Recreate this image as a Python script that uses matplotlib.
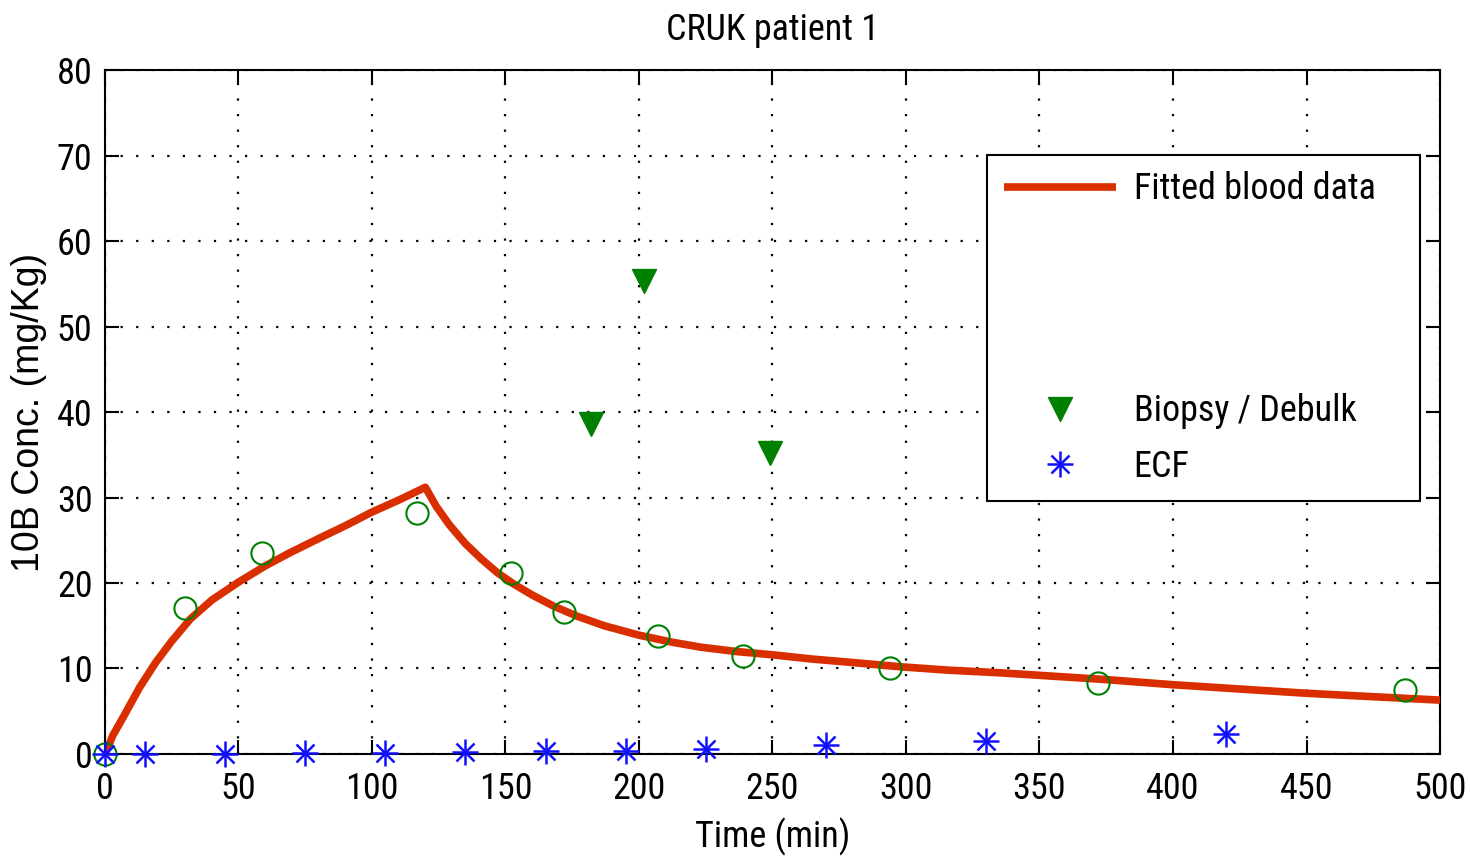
import numpy as np
import matplotlib
matplotlib.use("Agg")
import matplotlib.pyplot as plt
from matplotlib.lines import Line2D
from matplotlib.legend_handler import HandlerTuple
from matplotlib import font_manager

# look for a narrow sans font, fall back to Liberation Sans at a smaller size
fonts = font_manager.fontManager.ttflist
names = {f.name for f in fonts}
fs = 22
for cand in ['Liberation Sans Narrow', 'Arial Narrow', 'Roboto Condensed', 'Open Sans Condensed']:
    if cand in names:
        plt.rcParams['font.family'] = [cand, 'DejaVu Sans']
        fs = 26
        break
else:
    if any(f.name == 'DejaVu Sans' and f.stretch == 'condensed' for f in fonts):
        plt.rcParams['font.family'] = ['DejaVu Sans']
        plt.rcParams['font.stretch'] = 'condensed'
        fs = 24
    else:
        plt.rcParams['font.family'] = ['Liberation Sans', 'DejaVu Sans']

# fitted blood curve
fit_t = [0, 3, 7, 13, 19, 25, 32, 40, 50, 60, 69, 80, 90, 100, 110, 120,
         124, 129, 135, 141, 147, 153, 160, 168, 177, 187, 200, 212, 223, 236, 250,
         265, 280, 298, 316, 335, 350, 375, 400, 425, 450, 475, 500]
fit_c = [0, 2.2, 4.4, 7.8, 10.7, 13.2, 15.8, 18.0, 20.1, 22.0, 23.5, 25.2, 26.7, 28.3, 29.7, 31.2,
         29.0, 26.8, 24.6, 22.8, 21.2, 19.9, 18.6, 17.3, 16.1, 15.0, 13.9, 13.1, 12.5, 12.0, 11.6,
         11.1, 10.7, 10.2, 9.8, 9.5, 9.2, 8.7, 8.1, 7.6, 7.1, 6.7, 6.3]

# blood samples
blood_t = [0, 30, 59, 117, 152, 172, 207, 239, 294, 372, 487]
blood_c = [0, 17.1, 23.5, 28.2, 21.2, 16.6, 13.8, 11.5, 10.1, 8.3, 7.5]

# biopsy / debulk
bio_t = [182, 202, 249]
bio_c = [38.6, 55.3, 35.2]

# ECF
ecf_t = [0, 15, 45, 75, 105, 135, 165, 195, 225, 270, 330, 420]
ecf_c = [0, 0, 0, 0.1, 0.1, 0.2, 0.35, 0.35, 0.6, 1.05, 1.5, 2.3]

red = '#d92e00'
green = '#008000'
blue = '#1010ff'

fig = plt.figure(figsize=(14.7, 8.56), dpi=100)
ax = fig.add_axes([0.0714, 0.1192, 0.9082, 0.7988])

line, = ax.plot(fit_t, fit_c, color=red, lw=5.5, solid_capstyle='butt',
                solid_joinstyle='round', zorder=3)
ax.plot(blood_t, blood_c, 'o', mfc='none', mec=green, ms=16, mew=1.5, zorder=4, clip_on=False)
tri, = ax.plot(bio_t, bio_c, 'v', color=green, ms=17, zorder=4)
p1, = ax.plot(ecf_t, ecf_c, '+', color=blue, ms=19, mew=1.8, zorder=5, clip_on=False)
p2, = ax.plot(ecf_t, ecf_c, 'x', color=blue, ms=13, mew=1.8, zorder=5, clip_on=False)

ax.set_xlim(0, 500)
ax.set_ylim(0, 80)
ax.set_xticks(np.arange(0, 501, 50))
ax.set_yticks(np.arange(0, 81, 10))
ax.grid(True, color='black', linestyle=(0, (1, 6)), lw=1.6)
ax.tick_params(direction='in', length=10, width=1.5, top=True, right=True,
               labelsize=fs, pad=9)
ax.tick_params(axis='x', pad=12)
for s in ax.spines.values():
    s.set_linewidth(1.5)

ax.set_title('CRUK patient 1', fontsize=fs, pad=22)
ax.set_xlabel('Time (min)', fontsize=fs, labelpad=8)
ax.set_ylabel('10B Conc. (mg/Kg)', fontsize=27, family=['Liberation Sans', 'DejaVu Sans'],
              fontstretch='normal', labelpad=7)

blank = Line2D([], [], color='none')
leg = ax.legend([line, blank, blank, blank, tri, (p1, p2)],
                ['Fitted blood data', '', '', '', 'Biopsy / Debulk', 'ECF'],
                handler_map={tuple: HandlerTuple(ndivide=1, pad=0)},
                loc='upper left', bbox_to_anchor=(0.661, 0.876, 0.324, 0.0),
                mode='expand', fontsize=fs, labelspacing=0.54, handlelength=3.1 * 26 / fs,
                handletextpad=0.5, borderpad=0.45, borderaxespad=0, numpoints=1,
                fancybox=False, framealpha=1, edgecolor='black')
leg.get_frame().set_linewidth(1.5)
leg.set_zorder(10)

fig.savefig('out.png', dpi=100)
